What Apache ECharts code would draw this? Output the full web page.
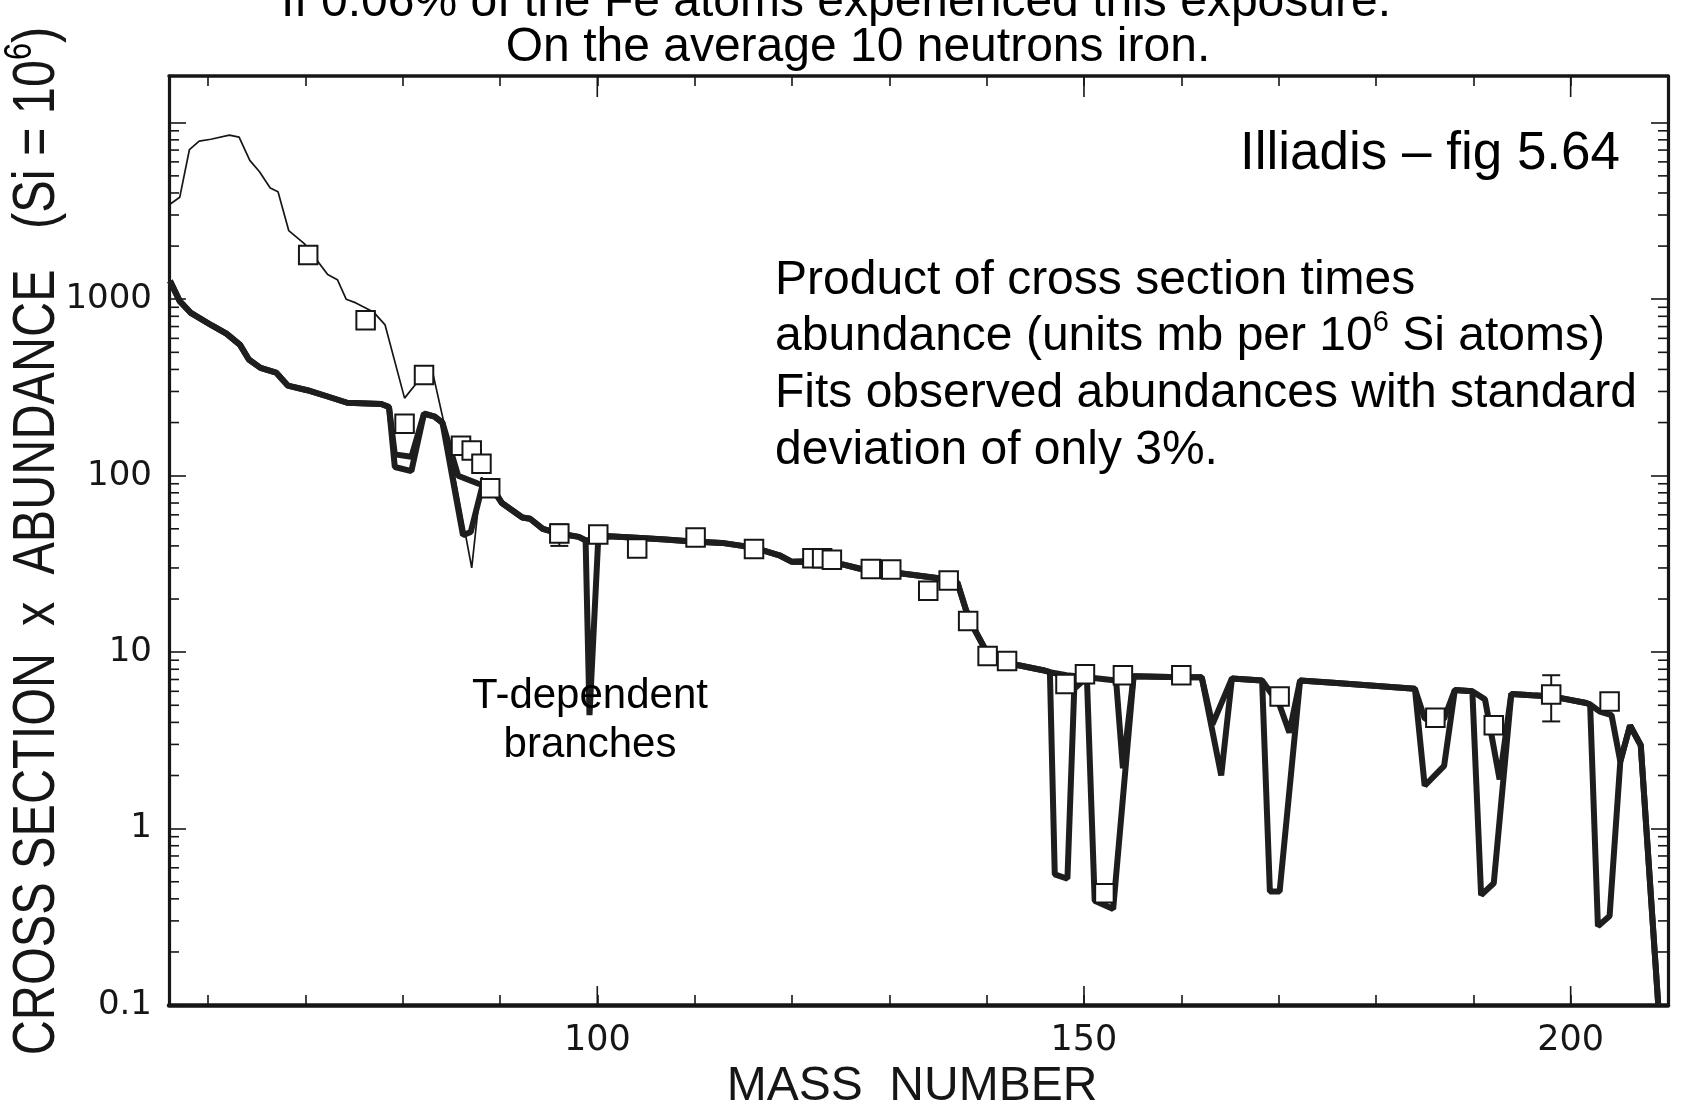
<!DOCTYPE html>
<html>
<head>
<meta charset="utf-8">
<title>Cross section x abundance vs mass number</title>
<script src="https://cdn.jsdelivr.net/npm/echarts@6.0.0/dist/echarts.min.js"></script>
<style>
  html, body { margin: 0; padding: 0; background: #fff; }
  #chart { width: 1681px; height: 1116px; }
</style>
</head>
<body>
<div id="chart"></div>
<script>
var ink = '#161616';
var textFont = '"Liberation Sans", Arial, Helvetica, sans-serif';
var tickFont = '"DejaVu Sans", sans-serif';

// [mass number, sigma*N]
// thin curve (includes the weak component), only separate below A~89
var thinCurve = [
  [56.1, 3450], [57.1, 3780], [58.1, 7050], [59.1, 7870], [60.3, 8060], [62.2, 8510],
  [63.2, 8280], [64.3, 6120], [65.3, 5280], [66.4, 4270], [67.2, 4060], [68.3, 2450],
  [69.9, 2065], [72.3, 1380], [73.3, 1290], [74.2, 1000], [75.2, 953], [77.0, 847],
  [78.2, 715], [80.2, 275], [82.2, 378], [83.0, 404], [84.7, 154], [87.1, 30],
  [88.1, 98], [89.2, 85]
];

// thick curve, branch with the deep dips
var deepBranch = [
  [56.1, 1270], [57.1, 975], [58.2, 840], [60.4, 710], [61.9, 638], [63.3, 551],
  [64.2, 455], [65.4, 408], [67.0, 384], [68.2, 324], [70.2, 305], [72.3, 281],
  [74.3, 259], [77.8, 255], [78.6, 245], [79.2, 112], [80.9, 106], [82.2, 225],
  [83.3, 216], [84.1, 199], [86.2, 46], [87.0, 48], [88.3, 92], [89.2, 85],
  [90.2, 70], [92.3, 58], [93.1, 57], [94.4, 50], [96.1, 47], [98.1, 45],
  [98.8, 43], [99.2, 4.4], [100.1, 44], [101.2, 45.4], [104.0, 44.5], [107.0, 43.5],
  [109.4, 42.5], [112.8, 41.6], [114.9, 40], [117.1, 37.6], [118.7, 35.4], [120.0, 32.5],
  [121.0, 32.6], [125.2, 31.4], [126.9, 29.8], [131.3, 27.9], [134.9, 26.3], [137.0, 24.8],
  [137.9, 17.2], [138.8, 13.3], [140.1, 9.8], [141.5, 8.8], [143.4, 8.4], [145.8, 7.9],
  [146.5, 7.7], [147.0, 0.55], [148.3, 0.52], [149.0, 6.2], [150.3, 7.2], [151.1, 0.39],
  [153.0, 0.35], [155.1, 7.3], [160.0, 7.2], [162.1, 7.2], [164.1, 2.0], [165.2, 7.1],
  [168.3, 6.9], [169.1, 0.44], [170.1, 0.44], [172.2, 6.9], [175.6, 6.7], [184.0, 6.2],
  [185.0, 1.75], [187.0, 2.27], [188.1, 6.1], [189.9, 6.0], [190.8, 0.42], [192.1, 0.49],
  [193.9, 5.8], [196.0, 5.7], [198.2, 5.6], [201.6, 5.15], [202.0, 5.05], [202.8, 0.28],
  [204.0, 0.32], [205.1, 2.4], [206.1, 3.84], [207.2, 2.97], [209.0, 0.1]
];

// thick curve, the other branch
var shallowBranch = [
  [56.1, 1270], [57.1, 975], [58.2, 840], [60.4, 710], [61.9, 638], [63.3, 551],
  [64.2, 455], [65.4, 408], [67.0, 384], [68.2, 324], [70.2, 305], [72.3, 281],
  [74.3, 259], [77.8, 255], [78.6, 245], [79.2, 132], [80.9, 128], [82.2, 225],
  [83.3, 216], [84.1, 199], [85.7, 100], [87.8, 90], [89.2, 85],
  [90.2, 70], [92.3, 58], [93.1, 57], [94.4, 50], [96.1, 47], [98.1, 45],
  [98.8, 43], [100.1, 44], [101.2, 45.4], [104.0, 44.5], [107.0, 43.5],
  [109.4, 42.5], [112.8, 41.6], [114.9, 40], [117.1, 37.6], [118.7, 35.4], [120.0, 32.5],
  [121.0, 32.6], [125.2, 31.4], [126.9, 29.8], [131.3, 27.9], [134.9, 26.3], [137.0, 24.8],
  [137.9, 17.2], [138.8, 13.3], [140.1, 9.8], [141.5, 8.8], [143.4, 8.4], [145.8, 7.9],
  [146.5, 7.7], [148.2, 7.4], [150.3, 7.2], [153.3, 6.9], [154.0, 2.2], [155.1, 7.3],
  [160.0, 7.2], [162.1, 7.2], [163.2, 3.9], [165.2, 7.1], [168.3, 6.9], [170.1, 5.0],
  [171.1, 3.5], [172.2, 6.9], [175.6, 6.7], [184.0, 6.2], [185.0, 4.2], [187.0, 4.2],
  [188.1, 6.1], [189.9, 6.0], [191.2, 5.4], [192.7, 1.9], [193.9, 5.8], [196.0, 5.7],
  [198.2, 5.6], [201.6, 5.15], [202.0, 5.05], [203.0, 4.6], [204.2, 4.4], [205.1, 2.4],
  [206.1, 3.84], [207.2, 2.97], [209.0, 0.1]
];

// observed values (open squares)
var observed = [
  [70.3, 1780], [76.2, 760], [80.2, 197], [82.2, 372], [86.0, 148], [87.1, 139],
  [88.1, 117], [89.0, 85], [96.1, 47], [100.1, 46.4], [104.1, 38.7], [110.1, 44.6],
  [116.1, 38.4], [122.1, 34], [123.1, 34], [124.1, 33.4], [128.1, 29.6], [130.2, 29.4],
  [134.0, 22.3], [136.1, 25.5], [138.1, 15], [140.1, 9.5], [142.1, 8.9], [148.1, 6.6],
  [150.1, 7.5], [152.1, 0.43], [154.0, 7.4], [160.0, 7.4], [170.1, 5.6], [186.1, 4.25],
  [192.1, 3.85], [198.0, 5.75], [204.0, 5.25]
];

// [mass, low, high]
var errorBars = [[96.1, 40, 53], [198.0, 4.05, 7.4]];

var massTicks = [60, 70, 80, 90, 100, 110, 120, 130, 140, 150, 160, 170, 180, 190, 200];
var massLongTicks = [100, 150, 200];
var massLabels = [100, 150, 200];
var decadeTicks = [0.1, 1, 10, 100, 1000, 10000];
var decadeLabels = [0.1, 1, 10, 100, 1000];

var massMin = 56, massMax = 210;
var yMin = 0.1, yMax = 18400;

function minorTicks() {
  var out = [];
  for (var i = 0; i < decadeTicks.length; i++) {
    for (var k = 2; k < 10; k++) {
      var v = +(decadeTicks[i] * k).toPrecision(3);
      if (v < yMax) out.push([massMin, v]);
    }
  }
  return out;
}

function longMassTicks() {
  return massLongTicks.map(function(m) { return [m, yMin]; });
}

function massAxis(pos, withLabels) {
  var ax = {
    type: 'value', position: pos, min: massMin, max: massMax,
    axisLine: { show: true, onZero: false, lineStyle: { color: ink, width: pos == 'bottom' ? 4.5 : 3.5 } },
    axisTick: { show: true, inside: true, length: 10, customValues: massTicks, lineStyle: { color: ink, width: 1.6 } },
    axisLabel: { show: false },
    splitLine: { show: false }
  };
  if (withLabels) {
    ax.axisLabel = {
      show: true, customValues: massLabels, margin: 18,
      fontSize: 35, fontFamily: tickFont, color: ink
    };
    ax.name = 'MASS  NUMBER';
    ax.nameLocation = 'middle';
    ax.nameGap = 57;
    ax.nameTextStyle = { fontSize: 48, fontFamily: textFont, color: ink, padding: [0, 13, 0, 0] };
  }
  return ax;
}

function valueAxis(pos, withLabels) {
  var ax = {
    type: 'log', logBase: 10, position: pos, min: yMin, max: yMax,
    axisLine: { show: true, onZero: false, lineStyle: { color: ink, width: 3.2 } },
    axisTick: { show: true, inside: true, length: 17, customValues: decadeTicks, lineStyle: { color: ink, width: 1.6 } },
    axisLabel: { show: false },
    splitLine: { show: false }
  };
  if (withLabels) {
    ax.axisLabel = {
      show: true, customValues: decadeLabels, margin: 17,
      fontSize: 34, fontFamily: tickFont, color: ink,
      formatter: function(v) { return String(+(+v).toPrecision(3)); }
    };
  }
  return ax;
}

// short inward ticks on both vertical frame sides (2..9 within each decade)
function renderMinorTick(params, api) {
  var cs = params.coordSys;
  var y = api.coord([api.value(0), api.value(1)])[1];
  var len = 10;
  var style = { stroke: ink, lineWidth: 1.6 };
  return {
    type: 'group',
    children: [
      { type: 'line', shape: { x1: cs.x, y1: y, x2: cs.x + len, y2: y }, style: style },
      { type: 'line', shape: { x1: cs.x + cs.width - len, y1: y, x2: cs.x + cs.width, y2: y }, style: style }
    ]
  };
}

// long inward ticks at 100, 150, 200 on top and bottom
function renderLongTick(params, api) {
  var cs = params.coordSys;
  var x = api.coord([api.value(0), api.value(1)])[0];
  var style = { stroke: ink, lineWidth: 1.6 };
  return {
    type: 'group',
    children: [
      { type: 'line', shape: { x1: x, y1: cs.y + cs.height, x2: x, y2: cs.y + cs.height - 19 }, style: style },
      { type: 'line', shape: { x1: x, y1: cs.y, x2: x, y2: cs.y + 21 }, style: style }
    ]
  };
}

function renderErrorBar(params, api) {
  var top = api.coord([api.value(0), api.value(2)]);
  var bottom = api.coord([api.value(0), api.value(1)]);
  var half = 9;
  var style = { stroke: ink, lineWidth: 2 };
  return {
    type: 'group',
    children: [
      { type: 'line', shape: { x1: top[0], y1: top[1], x2: bottom[0], y2: bottom[1] }, style: style },
      { type: 'line', shape: { x1: top[0] - half, y1: top[1], x2: top[0] + half, y2: top[1] }, style: style },
      { type: 'line', shape: { x1: bottom[0] - half, y1: bottom[1], x2: bottom[0] + half, y2: bottom[1] }, style: style }
    ]
  };
}

function label(x, y, text, size, align, extra) {
  var style = {
    x: 0, y: 0, text: text,
    fontSize: size, fontFamily: textFont, fill: '#000',
    align: align, textAlign: align,
    verticalAlign: 'top', textVerticalAlign: 'top'
  };
  for (var k in extra) style[k] = extra[k];
  return { type: 'text', x: x, y: y, silent: true, z: 20, style: style };
}

var supStyle = function(size, lh) {
  return { fontSize: size, fontFamily: textFont, fill: '#000', lineHeight: lh, verticalAlign: 'top' };
};

var yName = label(37, 541, 'CROSS SECTION  x  ABUNDANCE   (Si = 10{sup|6})', 60, 'center', {
  verticalAlign: 'middle', textVerticalAlign: 'middle', lineHeight: 70, fill: ink,
  rich: { sup: supStyle(38, 50) }
});
yName.rotation = Math.PI / 2;
yName.scaleX = 0.81;

var option = {
  animation: false,
  backgroundColor: '#fff',
  grid: { left: 169, right: 13, top: 76, bottom: 101, containLabel: false },
  xAxis: [massAxis('bottom', true), massAxis('top', false)],
  yAxis: [valueAxis('left', true), valueAxis('right', false)],
  series: [
    {
      type: 'line', name: 'thin', data: thinCurve, showSymbol: false, symbol: 'none',
      lineStyle: { color: ink, width: 1.7 }, z: 2, silent: true
    },
    {
      type: 'line', name: 'shallow', data: shallowBranch, showSymbol: false, symbol: 'none',
      lineStyle: { color: '#1e1e1e', width: 6 }, z: 3, silent: true
    },
    {
      type: 'line', name: 'deep', data: deepBranch, showSymbol: false, symbol: 'none',
      lineStyle: { color: '#1e1e1e', width: 6 }, z: 3, silent: true
    },
    {
      type: 'custom', name: 'errors', data: errorBars, renderItem: renderErrorBar, z: 4, silent: true
    },
    {
      type: 'scatter', name: 'observed', data: observed, symbol: 'rect', symbolSize: 18.5,
      itemStyle: { color: '#fff', borderColor: ink, borderWidth: 2, opacity: 1 }, z: 5, silent: true
    },
    {
      type: 'custom', name: 'minorTicks', data: minorTicks(), renderItem: renderMinorTick, z: 6, silent: true
    },
    {
      type: 'custom', name: 'longTicks', data: longMassTicks(), renderItem: renderLongTick, z: 6, silent: true
    }
  ],
  graphic: [
    label(836, -21, 'If 0.06% of the Fe atoms experienced this exposure.', 48, 'center', {}),
    label(858, 24, 'On the average 10 neutrons iron.', 48, 'center', {}),
    label(1430, 128, 'Illiadis \u2013 fig 5.64', 53, 'center', {}),
    label(775, 252, 'Product of cross section times\nabundance (units mb per 10{sup|6} Si atoms)\nFits observed abundances with standard\ndeviation of only 3%.', 48, 'left', {
      lineHeight: 56.7, rich: { sup: supStyle(29, 45) }
    }),
    label(590, 672, 'T-dependent\nbranches', 42, 'center', { lineHeight: 49 }),
    yName
  ]
};

var chart = echarts.init(document.getElementById('chart'), null, { renderer: 'canvas' });
chart.setOption(option);
</script>
</body>
</html>
